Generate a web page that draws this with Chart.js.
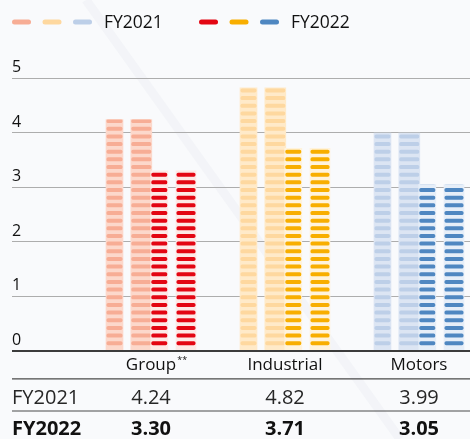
<!DOCTYPE html>
<html>
<head>
<meta charset="utf-8">
<script src="https://cdn.jsdelivr.net/npm/chart.js@4/dist/chart.umd.min.js"></script>
<style>
  html, body { margin: 0; padding: 0; background: #f9fafc; }
  #wrap { position: relative; width: 470px; height: 439px; }
  canvas { display: block; }
</style>
</head>
<body>
<div id="wrap"><canvas id="chart" width="470" height="439"></canvas></div>
<script>
// Earnings per segment, two fiscal years
const categories = ['Group', 'Industrial', 'Motors'];
const footnotes = ['**', '', ''];
const years = ['FY2021', 'FY2022'];
const fy2021 = [4.24, 4.82, 3.99];
const fy2022 = [3.30, 3.71, 3.05];
const yTicks = [0, 1, 2, 3, 4, 5];

// Per-segment palettes: stripe colour and the lighter ground between stripes
const stripe2021 = ['#f7ad95', '#fed89f', '#bdcfe8'];
const ground2021 = ['#fcd8cb', '#ffeac9', '#dce5f3'];
const stripe2022 = ['#e30613', '#f8ae00', '#4f87c1'];
const ground2022 = ['#fde9e6', '#fff3dc', '#e6eef8'];

// Horizontal geometry (pixels): first group centre, spacing, chart area edges
const AREA_LEFT = 12, AREA_RIGHT = 470;
const FIRST_CENTER = 151, STEP = 134;
const xMin = -(FIRST_CENTER - AREA_LEFT) / STEP;
const xMax = xMin + (AREA_RIGHT - AREA_LEFT) / STEP;

// Four bars per group: two for each year, placed around the group centre
const barSlots = [
  { year: 0, shift: -36.5, width: 17 },
  { year: 0, shift: -9.7,  width: 21 },
  { year: 1, shift: 8.3,   width: 17 },
  { year: 1, shift: 35,    width: 20 }
];

const FONT = '"Open Sans", "Noto Sans", sans-serif';
const INK = '#111111';

const datasets = barSlots.map((slot, k) => {
  const values = slot.year === 0 ? fy2021 : fy2022;
  return {
    label: years[slot.year],
    data: categories.map((c, i) => ({ x: i + slot.shift / STEP, y: values[i] })),
    backgroundColor: slot.year === 0 ? ground2021 : ground2022,
    stripeColor: slot.year === 0 ? stripe2021 : stripe2022,
    barThickness: slot.width,
    grouped: false,
    borderWidth: 0,
    order: barSlots.length - k
  };
});

// Faint diagonal sheen across the background
const backdrop = {
  id: 'backdrop',
  beforeDraw(chart) {
    const c = chart.ctx;
    c.save();
    c.strokeStyle = 'rgba(228,232,238,0.3)';
    c.lineWidth = 9;
    c.beginPath();
    c.moveTo(86, 0);
    c.lineTo(400, 439);
    c.stroke();
    c.restore();
  }
};

// Horizontal stripes inside each bar
const stripes = {
  id: 'stripes',
  afterDatasetDraw(chart, args) {
    const meta = args.meta;
    const ds = chart.data.datasets[meta.index];
    const c = chart.ctx;
    const period = 7.66, thick = 4, phase = 7.3;
    meta.data.forEach((bar, i) => {
      const p = bar.getProps(['x', 'y', 'base', 'width'], true);
      const left = p.x - p.width / 2;
      c.save();
      c.beginPath();
      c.rect(left, p.y, p.width, p.base - p.y);
      c.clip();
      c.fillStyle = ds.stripeColor[i];
      for (let cy = p.base - phase; cy > p.y - thick; cy -= period) {
        c.beginPath();
        c.roundRect(left + 0.5, cy - thick / 2, p.width - 1, thick, 1.6);
        c.fill();
      }
      c.restore();
    });
  }
};

// Legend, baseline and the value table beneath the bars
const furniture = {
  id: 'furniture',
  afterDraw(chart) {
    const c = chart.ctx;
    const xs = chart.scales.x;
    const ys = chart.scales.y;
    c.save();

    // legend
    const legendY = 22;
    const swatchRows = [
      { x: 12, colors: stripe2021, label: years[0] },
      { x: 199, colors: stripe2022, label: years[1] }
    ];
    swatchRows.forEach(row => {
      row.colors.forEach((col, j) => {
        c.fillStyle = col;
        c.beginPath();
        c.roundRect(row.x + j * 30.5, legendY - 2.5, 19, 5, 2.5);
        c.fill();
      });
      c.fillStyle = INK;
      c.font = '500 17.5px ' + FONT;
      c.textAlign = 'left';
      c.textBaseline = 'middle';
      c.fillText(row.label, row.x + 92, legendY + 1);
    });

    // zero line over the bar feet
    const y0 = ys.getPixelForValue(0);
    c.strokeStyle = '#3c3c3c';
    c.lineWidth = 1.8;
    c.beginPath();
    c.moveTo(AREA_LEFT, y0);
    c.lineTo(AREA_RIGHT, y0);
    c.stroke();

    // category names
    c.fillStyle = INK;
    c.textBaseline = 'alphabetic';
    categories.forEach((name, i) => {
      const cx = xs.getPixelForValue(i);
      c.font = '500 17px ' + FONT;
      c.textAlign = 'center';
      c.fillText(name, cx, 370);
      if (footnotes[i]) {
        const w = c.measureText(name).width;
        c.font = '9px ' + FONT;
        c.textAlign = 'left';
        c.fillText(footnotes[i], cx + w / 2 + 1, 363);
      }
    });

    // table rules
    c.strokeStyle = '#4a4a4a';
    c.lineWidth = 1.2;
    [378.8, 411].forEach(ry => {
      c.beginPath();
      c.moveTo(AREA_LEFT, ry);
      c.lineTo(AREA_RIGHT, ry);
      c.stroke();
    });

    // value rows
    const rows = [
      { label: years[0], values: fy2021, weight: '', y: 404 },
      { label: years[1], values: fy2022, weight: 'bold ', y: 435 }
    ];
    rows.forEach(r => {
      c.font = r.weight + '20px ' + FONT;
      c.fillStyle = r.weight ? '#111' : '#262626';
      c.textAlign = 'left';
      c.fillText(r.label, 12, r.y);
      c.textAlign = 'center';
      r.values.forEach((v, i) => {
        c.fillText(v.toFixed(2), xs.getPixelForValue(i), r.y);
      });
    });
    c.restore();
  }
};

new Chart(document.getElementById('chart'), {
  type: 'bar',
  data: { datasets },
  options: {
    responsive: false,
    animation: false,
    events: [],
    layout: { padding: { top: 78, bottom: 88, left: AREA_LEFT, right: 0 } },
    plugins: { legend: { display: false }, tooltip: { enabled: false } },
    scales: {
      x: {
        type: 'linear',
        min: xMin,
        max: xMax,
        offset: false,
        bounds: 'ticks',
        display: false
      },
      y: {
        min: yTicks[0],
        max: yTicks[yTicks.length - 1],
        afterBuildTicks(scale) { scale.ticks = yTicks.map(v => ({ value: v })); },
        border: { display: false },
        grid: {
          drawTicks: false,
          color: ctx => (ctx.tick && ctx.tick.value === 0) ? 'rgba(0,0,0,0)' : '#adadad',
          lineWidth: 1
        },
        ticks: {
          mirror: true,
          padding: 0,
          labelOffset: -10.5,
          color: INK,
          font: { family: FONT, size: 16, weight: 500 }
        }
      }
    }
  },
  plugins: [backdrop, stripes, furniture]
});
</script>
</body>
</html>
